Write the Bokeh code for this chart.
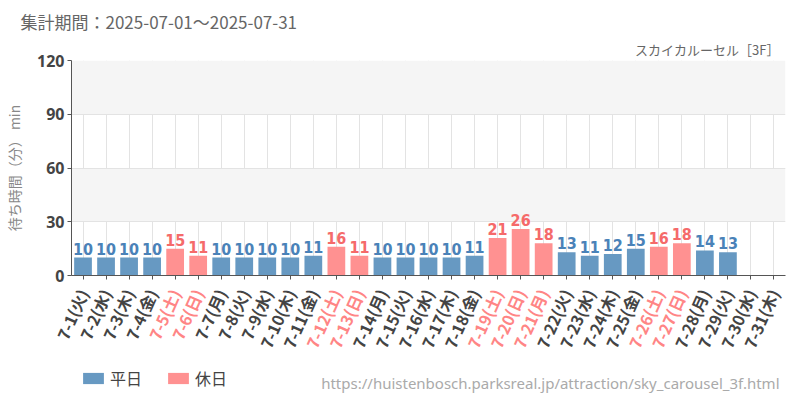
from bokeh.plotting import figure
from bokeh.layouts import column
from bokeh.models import (ColumnDataSource, FactorRange, Range1d, LabelSet, Label,
                          Legend, LegendItem, FixedTicker, Title)
from bokeh.core.properties import value
from bokeh.embed import file_html
from bokeh.resources import INLINE

# ---- data ----
dates = ["7-1", "7-2", "7-3", "7-4", "7-5", "7-6", "7-7", "7-8", "7-9", "7-10",
         "7-11", "7-12", "7-13", "7-14", "7-15", "7-16", "7-17", "7-18", "7-19", "7-20",
         "7-21", "7-22", "7-23", "7-24", "7-25", "7-26", "7-27", "7-28", "7-29", "7-30", "7-31"]
weekdays = ["火", "水", "木", "金", "土", "日", "月", "火", "水", "木",
            "金", "土", "日", "月", "火", "水", "木", "金", "土", "日",
            "月", "火", "水", "木", "金", "土", "日", "月", "火", "水", "木"]
holiday = [0, 0, 0, 0, 1, 1, 0, 0, 0, 0,
           0, 1, 1, 0, 0, 0, 0, 0, 1, 1,
           1, 0, 0, 0, 0, 1, 1, 0, 0, 0, 0]
waits = [10, 10, 10, 10, 15, 11, 10, 10, 10, 10,
         11, 16, 11, 10, 10, 10, 10, 11, 21, 26,
         18, 13, 11, 12, 15, 16, 18, 14, 13, None, None]
y_ticks = [0, 30, 60, 90, 120]
title_text = "集計期間：2025-07-01～2025-07-31"
subtitle_text = "スカイカルーセル［3F］"
y_label = "待ち時間（分） min"
url_text = "https://huistenbosch.parksreal.jp/attraction/sky_carousel_3f.html"
series_names = ["平日", "休日"]

# ---- layout / styles ----
W = 800
LEFT, RIGHT, TOP = 71, 15, 60
FRAME_H = 215
AX_H = 10
H1 = TOP + FRAME_H + AX_H
H2 = 400 - H1
N_PAD = 3
LABEL_DROP = 4.5
BLUE = "#6799c2"
RED = "#ff9191"
BLUE_TXT = "#4a82b8"
RED_TXT = "#f56a6a"
RED_LBL = "#ff8585"
JP = "Noto Sans CJK JP"
NUM_FONT = "'DejaVu Sans Condensed', 'Roboto Condensed', 'Liberation Sans Narrow', Roboto, sans-serif"

labels = [f"{d}({w})" for d, w in zip(dates, weekdays)]

wk = dict(x=[], top=[], txt=[])
hd = dict(x=[], top=[], txt=[])
for lab, h, v in zip(labels, holiday, waits):
    if v is None:
        continue
    tgt = hd if h else wk
    tgt["x"].append(lab)
    tgt["top"].append(v)
    tgt["txt"].append(str(v))
src_wk = ColumnDataSource(wk)
src_hd = ColumnDataSource(hd)

# ================= main chart =================
p = figure(width=W, height=H1, x_range=FactorRange(factors=labels),
           y_range=Range1d(0, 120), output_backend="svg", toolbar_location=None,
           title=None,
           min_border_left=LEFT, min_border_right=RIGHT, min_border_top=TOP,
           min_border_bottom=AX_H)
p.outline_line_color = None
p.background_fill_color = "white"
p.border_fill_color = "white"

r1 = p.vbar(x="x", top="top", width=0.77, source=src_wk, fill_color=BLUE,
            line_color=None)
r2 = p.vbar(x="x", top="top", width=0.77, source=src_hd, fill_color=RED,
            line_color=None)

p.ygrid.ticker = FixedTicker(ticks=y_ticks)
p.ygrid.grid_line_color = "#e3e3e3"
p.ygrid.band_fill_color = "#f5f5f5"
p.ygrid.band_fill_alpha = 1.0
p.xgrid.grid_line_color = "#e3e3e3"

ya = p.yaxis[0]
ya.ticker = FixedTicker(ticks=y_ticks)
ya.axis_label = y_label
ya.axis_label_text_font = JP
ya.axis_label_text_font_size = "14px"
ya.axis_label_text_font_style = "normal"
ya.axis_label_text_color = "#888888"
ya.axis_label_standoff = 10
ya.major_label_text_font = "Noto Sans"
ya.major_label_text_font_style = "bold"
ya.major_label_text_font_size = "16px"
ya.major_label_text_color = "#444444"
ya.major_label_standoff = 3
ya.major_tick_in = 0
ya.major_tick_out = 4
ya.minor_tick_line_color = None
ya.axis_line_color = "#555555"
ya.major_tick_line_color = "#555555"

xa = p.xaxis[0]
xa.major_label_text_color = None
xa.major_label_text_font_size = "0px"
xa.major_label_standoff = 0
xa.major_tick_in = 0
xa.major_tick_out = 4
xa.axis_line_color = "#555555"
xa.major_tick_line_color = "#555555"

for src, col in ((src_wk, BLUE_TXT), (src_hd, RED_TXT)):
    p.add_layout(LabelSet(x="x", y="top", text="txt", source=src, y_offset=3,
                          text_align="center", text_baseline="alphabetic",
                          text_font=value(NUM_FONT),
                          text_font_style="bold", text_font_size="16px",
                          text_color=col))

p.add_layout(Title(text=subtitle_text, align="right", offset=6, standoff=4,
                   text_font=JP, text_font_size="13px", text_font_style="normal",
                   text_color="#666666"), "above")
p.add_layout(Title(text=title_text, align="left", offset=-51, standoff=4,
                   text_font=JP, text_font_size="17px", text_font_style="normal",
                   text_color="#666666"), "above")

# ================= label strip (x labels, legend, source) =================
px_per = (W - LEFT - RIGHT) / len(labels)
left2 = int(round(LEFT - N_PAD * px_per))
pads = [f"pad{i}" for i in range(N_PAD)]
p2 = figure(width=W, height=H2,
            x_range=FactorRange(factors=pads + labels),
            y_range=Range1d(-H2, 0), output_backend="svg", toolbar_location=None,
            title=None, x_axis_location=None, y_axis_location=None,
            min_border_left=left2, min_border_right=RIGHT, min_border_top=0,
            min_border_bottom=0)
p2.outline_line_color = None
p2.xgrid.visible = False
p2.ygrid.visible = False
p2.background_fill_color = "white"
p2.border_fill_color = "white"
if "frame_align" in p.properties():
    p.frame_align = False
    p2.frame_align = False

xl = ColumnDataSource(dict(x=labels, y=[-LABEL_DROP] * len(labels), txt=labels,
                           col=[RED_LBL if h else "#444444" for h in holiday]))
p2.text(x="x", y="y", text="txt", source=xl, angle=1.15,
        text_align="right", text_baseline="middle",
        text_font=value(JP), text_font_size="16px", text_font_style="bold",
        text_color="col")

# legend swatches (zero-height, invisible bars only used for legend glyphs)
d1 = p2.vbar(x=[pads[0]], top=[0], bottom=[0], width=0.5, fill_color=BLUE,
             line_color=None)
d2 = p2.vbar(x=[pads[0]], top=[0], bottom=[0], width=0.5, fill_color=RED,
             line_color=None)
legend = Legend(items=[LegendItem(label=series_names[0], renderers=[d1]),
                       LegendItem(label=series_names[1], renderers=[d2])],
                location=(80 - left2, 10), orientation="horizontal", padding=0,
                margin=0, border_line_color=None, background_fill_alpha=0,
                glyph_width=26, glyph_height=14, label_standoff=4, spacing=23,
                label_text_font=JP, label_text_font_size="16px",
                label_text_color="#444444")
p2.add_layout(legend)

p2.add_layout(Label(x=779 - left2, y=18, x_units="screen", y_units="screen",
                    text=url_text, text_font="Noto Sans", text_font_size="15px",
                    text_color="#aaaaaa", text_baseline="middle", text_align="right"))

layout = column(p, p2, spacing=0)
open("out.html", "w").write(file_html(layout, INLINE))
